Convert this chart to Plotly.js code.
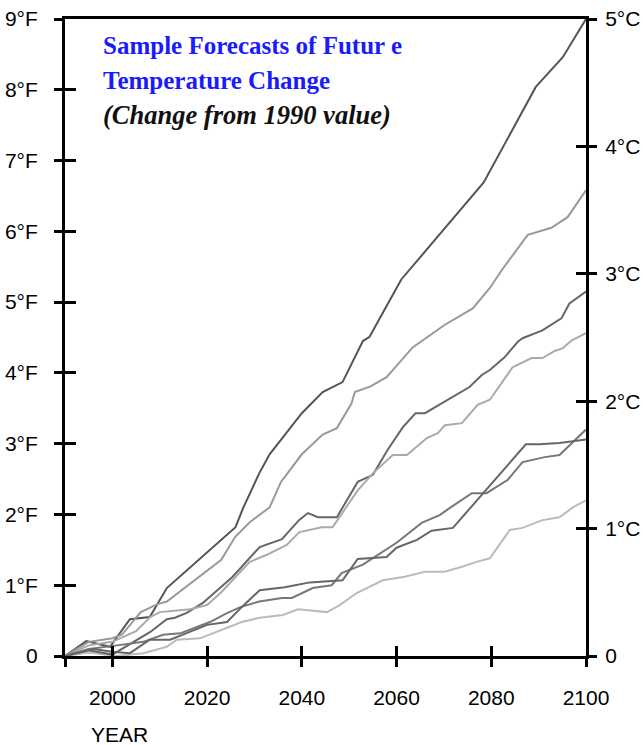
<!DOCTYPE html>
<html>
<head>
<meta charset="utf-8">
<script src="https://cdn.plot.ly/plotly-3.0.1.min.js"></script>
<style>html,body{margin:0;padding:0;background:#fff;}#chart{width:643px;height:745px;}</style>
</head>
<body>
<div id="chart"></div>
<script>
// ---- data (°F change from 1990) ----
const yearsA = [1990, 1994.5, 1999.5, 2003.7, 2007.9, 2011.5, 2026, 2027.6, 2031, 2033.2, 2040, 2044.4, 2048.6, 2052.9, 2054.3, 2061, 2078.4, 2089.4, 2095.1, 2100];
const valsA  = [0, 0.21, 0.13, 0.52, 0.55, 0.96, 1.82, 2.09, 2.58, 2.85, 3.43, 3.73, 3.87, 4.45, 4.51, 5.32, 6.69, 8.04, 8.46, 9.0];

const yearsB = [1990, 1995, 2000, 2002, 2006, 2009.4, 2011.5, 2023, 2025.9, 2029, 2033.2, 2035.6, 2040, 2044.4, 2047.4, 2050.5, 2051.2, 2054.5, 2057.9, 2060.7, 2063.4, 2070.2, 2076.1, 2079.7, 2082.2, 2087.7, 2092.7, 2096.1, 2100];
const valsB  = [0, 0.2, 0.25, 0.3, 0.62, 0.73, 0.77, 1.36, 1.68, 1.89, 2.10, 2.46, 2.85, 3.13, 3.22, 3.57, 3.73, 3.81, 3.94, 4.15, 4.36, 4.68, 4.91, 5.2, 5.45, 5.95, 6.05, 6.2, 6.58];

const yearsC = [1990, 1995, 2000, 2005.2, 2008, 2011.5, 2013.2, 2015.7, 2019.1, 2025.4, 2031.1, 2035.8, 2039.4, 2041.3, 2043.4, 2047.4, 2051.8, 2055, 2058.1, 2061.3, 2064, 2066, 2070.2, 2075.4, 2078, 2079.7, 2082.8, 2085.6, 2086.6, 2090.8, 2094.8, 2096.5, 2100];
const valsC  = [0, 0.08, 0.02, 0.23, 0.34, 0.52, 0.54, 0.61, 0.75, 1.12, 1.54, 1.65, 1.92, 2.02, 1.96, 1.96, 2.46, 2.56, 2.91, 3.23, 3.43, 3.43, 3.59, 3.8, 3.97, 4.04, 4.22, 4.44, 4.49, 4.6, 4.77, 4.98, 5.15];

const yearsD = [1990, 1995, 2000, 2005, 2008, 2010, 2016.4, 2020, 2023, 2026, 2029, 2032.6, 2036.8, 2039.5, 2044.2, 2046.5, 2051.8, 2055, 2059.2, 2062.2, 2066.4, 2068.7, 2070.2, 2073.8, 2077.1, 2079.7, 2084.5, 2088.5, 2090.8, 2093.4, 2095.1, 2097, 2100];
const valsD  = [0, 0.15, 0.2, 0.35, 0.55, 0.62, 0.66, 0.72, 0.9, 1.12, 1.33, 1.43, 1.57, 1.75, 1.82, 1.82, 2.34, 2.58, 2.84, 2.84, 3.08, 3.15, 3.26, 3.29, 3.55, 3.62, 4.08, 4.21, 4.21, 4.31, 4.35, 4.46, 4.56];

const yearsE = [1990, 1995, 2001, 2006.5, 2010.7, 2014.3, 2020.6, 2024, 2027, 2031, 2035.8, 2037.9, 2042.3, 2046.3, 2048.4, 2052.9, 2060, 2065.3, 2069.1, 2071.2, 2075.9, 2079, 2083.5, 2086.6, 2091.3, 2094.4, 2100];
const valsE  = [0, 0.1, 0.15, 0.2, 0.3, 0.32, 0.48, 0.6, 0.69, 0.77, 0.82, 0.82, 0.96, 1.0, 1.17, 1.29, 1.60, 1.88, 1.99, 2.09, 2.30, 2.30, 2.49, 2.74, 2.81, 2.84, 3.2];

const yearsF = [1990, 1996, 2000, 2003.7, 2007.9, 2012.2, 2020, 2024.2, 2027.3, 2031.1, 2036.4, 2041.7, 2048.6, 2051.8, 2057.9, 2060, 2064.3, 2067.4, 2071.9, 2087.3, 2090.2, 2094.4, 2100];
const valsF  = [0, 0.1, 0.06, 0.04, 0.23, 0.23, 0.44, 0.48, 0.69, 0.93, 0.97, 1.04, 1.07, 1.37, 1.40, 1.53, 1.64, 1.77, 1.81, 2.99, 2.99, 3.01, 3.06];

const yearsG = [1990, 1995, 2001, 2006.5, 2011.5, 2013.6, 2018.5, 2027.3, 2031.1, 2036, 2039.2, 2045.3, 2048, 2051.6, 2057.1, 2061.7, 2066, 2070.2, 2073.8, 2076.9, 2079.7, 2083.9, 2086.6, 2090.8, 2094.4, 2097.2, 2100];
const valsG  = [0, 0.05, 0.0, 0.04, 0.13, 0.23, 0.25, 0.48, 0.54, 0.58, 0.66, 0.62, 0.72, 0.89, 1.07, 1.12, 1.19, 1.19, 1.26, 1.33, 1.38, 1.78, 1.81, 1.92, 1.96, 2.10, 2.2];

const xTickVals = [1990, 2000, 2020, 2040, 2060, 2080, 2100];
const xTickText = ['', '2000', '2020', '2040', '2060', '2080', '2100'];
const fTickVals = [0, 1, 2, 3, 4, 5, 6, 7, 8, 9];
const fTickText = ['0', '1°F', '2°F', '3°F', '4°F', '5°F', '6°F', '7°F', '8°F', '9°F'];
const cTickVals = [0, 1, 2, 3, 4, 5];
const cTickText = ['0', '1°C', '2°C', '3°C', '4°C', '5°C'];

const titleLine1 = 'Sample Forecasts of Futur e';
const titleLine2 = 'Temperature Change';
const titleLine3 = '(Change from 1990 value)';
const xLabel = 'YEAR';

// °C tick positions expressed on the °F scale (5 °C = 9 °F)
const cTickPosF = cTickVals.map(c => c * 9 / 5);

// ---- traces (spread over overlaid axes so every axis is drawn; all share the same °F scale) ----
const series = [
  {x: yearsG, y: valsG, c: '#bbbbbb', xa: 'x',  ya: 'y'},
  {x: yearsD, y: valsD, c: '#aaaaaa', xa: 'x',  ya: 'y2'},
  {x: yearsB, y: valsB, c: '#999999', xa: 'x',  ya: 'y3'},
  {x: yearsE, y: valsE, c: '#777777', xa: 'x',  ya: 'y4'},
  {x: yearsF, y: valsF, c: '#666666', xa: 'x2', ya: 'y'},
  {x: yearsC, y: valsC, c: '#666666', xa: 'x',  ya: 'y'},
  {x: yearsA, y: valsA, c: '#555555', xa: 'x',  ya: 'y'}
];
const traces = series.map(s => ({
  x: s.x, y: s.y, type: 'scatter', mode: 'lines',
  line: {color: s.c, width: 2}, xaxis: s.xa, yaxis: s.ya,
  hoverinfo: 'skip', showlegend: false
}));

const tickFont = {family: 'Liberation Sans, Arial, sans-serif', size: 21, color: '#000'};
const L = 65, R = 586, T = 19, B = 656, W = 643, H = 745;
const yRange = [0, 9];

const layout = {
  width: W, height: H,
  margin: {l: L, r: W - R, t: T, b: H - B, pad: 0},
  paper_bgcolor: '#fff', plot_bgcolor: '#fff',
  showlegend: false,
  xaxis: {
    range: [1990, 2100], showgrid: false, zeroline: false,
    showline: true, linecolor: '#000', linewidth: 3, mirror: true,
    ticks: 'outside', ticklen: 8, tickwidth: 3, tickcolor: '#000',
    tickvals: xTickVals, ticktext: xTickText, tickfont: tickFont,
    ticklabelstandoff: 13
  },
  xaxis2: {
    overlaying: 'x', anchor: 'y', range: [1990, 2100], showgrid: false, zeroline: false,
    showline: false, ticks: 'inside', ticklen: 10, tickwidth: 3, tickcolor: '#000',
    tickvals: xTickVals.slice(1), showticklabels: false
  },
  yaxis: {
    range: yRange, showgrid: false, zeroline: false,
    showline: true, linecolor: '#000', linewidth: 3,
    ticks: 'outside', ticklen: 8, tickwidth: 3, tickcolor: '#000',
    tickvals: fTickVals, ticktext: fTickText, tickfont: tickFont,
    ticklabelstandoff: 12
  },
  yaxis3: {
    overlaying: 'y', anchor: 'x', range: yRange, showgrid: false, zeroline: false,
    showline: false, ticks: 'inside', ticklen: 11, tickwidth: 3, tickcolor: '#000',
    tickvals: fTickVals, showticklabels: false
  },
  yaxis2: {
    overlaying: 'y', side: 'right', anchor: 'x', range: yRange, showgrid: false, zeroline: false,
    showline: true, linecolor: '#000', linewidth: 3,
    ticks: 'outside', ticklen: 8, tickwidth: 3, tickcolor: '#000',
    tickvals: cTickPosF, ticktext: cTickText, tickfont: tickFont,
    ticklabelstandoff: 4
  },
  yaxis4: {
    overlaying: 'y', side: 'right', anchor: 'x', range: yRange, showgrid: false, zeroline: false,
    showline: false, ticks: 'inside', ticklen: 10, tickwidth: 3, tickcolor: '#000',
    tickvals: cTickPosF, showticklabels: false
  },
  annotations: [
    {text: titleLine1, xref: 'paper', yref: 'paper', x: (101 - L) / (R - L), y: (B - 46) / (B - T),
     xanchor: 'left', yanchor: 'middle', showarrow: false,
     font: {family: 'Liberation Serif, Times New Roman, serif', size: 25, color: '#1a1aff', weight: 'bold'}},
    {text: titleLine2, xref: 'paper', yref: 'paper', x: (101 - L) / (R - L), y: (B - 81) / (B - T),
     xanchor: 'left', yanchor: 'middle', showarrow: false,
     font: {family: 'Liberation Serif, Times New Roman, serif', size: 25, color: '#1a1aff', weight: 'bold'}},
    {text: '<b><i>' + titleLine3 + '</i></b>', xref: 'paper', yref: 'paper', x: (101 - L) / (R - L), y: (B - 115) / (B - T),
     xanchor: 'left', yanchor: 'middle', showarrow: false,
     font: {family: 'Liberation Serif, Times New Roman, serif', size: 26.5, color: '#111'}},
    {text: xLabel, xref: 'paper', yref: 'paper', x: (89 - L) / (R - L), y: (B - 734) / (B - T),
     xanchor: 'left', yanchor: 'middle', showarrow: false, font: tickFont}
  ]
};

Plotly.newPlot('chart', traces, layout, {staticPlot: true, displayModeBar: false});
</script>
</body>
</html>
